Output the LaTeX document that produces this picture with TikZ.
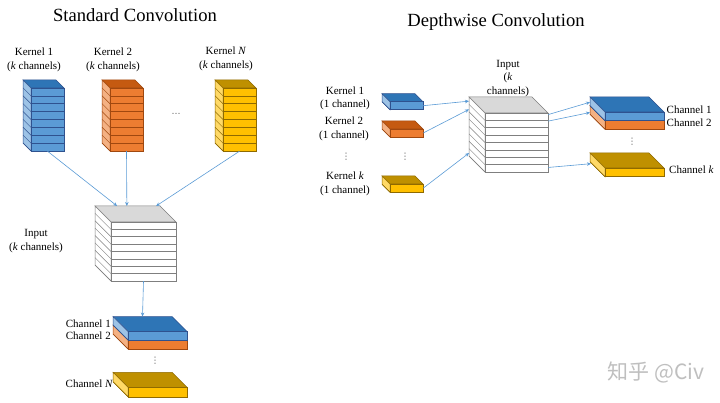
\documentclass[tikz,border=0pt]{standalone}
\usepackage{fontspec}
\setmainfont{Liberation Serif}
\newfontfamily\cjk{Noto Sans CJK SC}
\newfontfamily\symf{DejaVu Sans}
\usetikzlibrary{arrows.meta,calc}

\definecolor{blueTop}{HTML}{2E75B6}
\definecolor{blueFront}{HTML}{5B9BD5}
\definecolor{blueSide}{HTML}{9DC3E6}
\definecolor{blueEdge}{HTML}{2F528F}
\definecolor{orangeTop}{HTML}{C55A11}
\definecolor{orangeFront}{HTML}{ED7D31}
\definecolor{orangeSide}{HTML}{F4B183}
\definecolor{orangeEdge}{HTML}{A0480F}
\definecolor{yellowTop}{HTML}{BF9000}
\definecolor{yellowFront}{HTML}{FFC000}
\definecolor{yellowSide}{HTML}{FFD966}
\definecolor{yellowEdge}{HTML}{8F6A00}
\definecolor{greyTop}{HTML}{D9D9D9}
\definecolor{greyFront}{HTML}{FFFFFF}
\definecolor{greySide}{HTML}{FFFFFF}
\definecolor{greyEdge}{HTML}{7F7F7F}
\definecolor{link}{HTML}{5B9BD5}

% name, x, y (front top left), width, height, depth, layers, colour
\newcommand{\cuboid}[8]{%
  \begin{scope}[draw=#8Edge, line width=0.5pt]
    \filldraw[fill=#8Top] (#2,#3) -- ++(#4,0) -- ++(-#6,-#6) -- ++(-#4,0) -- cycle;
    \filldraw[fill=#8Side] (#2,#3) -- ++(0,#5) -- ++(-#6,-#6) -- ++(0,-#5) -- cycle;
    \filldraw[fill=#8Front] (#2,#3) rectangle ++(#4,#5);
    \foreach \i in {1,...,#7} {
      \pgfmathsetmacro\yy{#3+\i*#5/#7}
      \draw (#2,\yy) -- ++(#4,0);
      \draw (#2,\yy) -- ++(-#6,-#6);
    }
  \end{scope}
  \node[inner sep=0pt, minimum width=#4pt, minimum height=#5pt] (#1) at ({#2+#4/2},{#3+#5/2}) {};
  \coordinate (#1-tl) at ({#2-#6},{#3-#6});
  \coordinate (#1-tr) at ({#2+#4-#6},{#3-#6});
  \coordinate (#1-bl) at ({#2-#6},{#3+#5-#6});
}

\begin{document}
\begin{tikzpicture}[x=1pt,y=-1pt,
  lbl/.style={inner sep=0pt, align=center, font=\fontsize{11}{13.5}\selectfont},
  head/.style={inner sep=0pt, font=\fontsize{18.6}{20}\selectfont},
  dots/.style={inner sep=0pt, text=black!60, font=\symf\fontsize{9}{9}\selectfont},
  conn/.style={draw=link, line width=0.6pt, -{Stealth[length=4pt,width=3.5pt]}}]
\useasboundingbox (0,0) rectangle (720,403);

% standard convolution
\node[head] (stdTitle) at (135,15) {Standard Convolution};
\node[lbl] (k1Lbl) at (34,60) {Kernel 1\\(\textit{k} channels)};
\node[lbl] (k2Lbl) at (113,60) {Kernel 2\\(\textit{k} channels)};
\node[lbl] (kNLbl) at (226,59) {Kernel \textit{N}\\(\textit{k} channels)};
\node[dots] (kDots) at (176,114) {…};
\node[lbl] (inSLbl) at (36,241) {Input\\(\textit{k} channels)};

\cuboid{k1}{31}{88}{33}{63}{8}{8}{blue}
\cuboid{k2}{110}{88}{33}{63}{8}{8}{orange}
\cuboid{kN}{223}{88}{33}{63}{8}{8}{yellow}
\cuboid{inS}{111}{222}{65}{59}{16}{8}{grey}

\node[lbl, anchor=east] (cS1Lbl) at (111,323.5) {Channel 1};
\node[lbl, anchor=east] (cS2Lbl) at (111,336) {Channel 2};
\node[lbl, anchor=west] (cSNLbl) at (65.5,383.5) {Channel \textit{N}};
\node[dots] (cSDots) at (155,361) {⋮};

\cuboid{outS2}{128}{340}{59}{9}{15}{1}{orange}
\cuboid{outS1}{128}{331.5}{59}{8.5}{15}{1}{blue}
\cuboid{outSN}{128}{387.3}{59}{9.5}{15}{1}{yellow}

\draw[conn] (k1.south) -- ($(inS-tl)!0.34!(inS-tr)$);
\draw[conn] (k2.south) -- ($(inS-tl)!0.49!(inS-tr)$);
\draw[conn] (kN.south) -- ($(inS-tl)!0.94!(inS-tr)$);
\draw[conn] (inS.south) -- ($(outS1-tl)!0.5!(outS1-tr)$);

% depthwise convolution
\node[head] (dwTitle) at (496,22) {Depthwise Convolution};
\node[lbl] (d1Lbl) at (345,98.3) {Kernel 1\\(1 channel)};
\node[lbl] (d2Lbl) at (344,128.7) {Kernel 2\\(1 channel)};
\node[lbl] (dkLbl) at (345,183.7) {Kernel \textit{k}\\(1 channel)};
\node[dots] (dLblDots) at (346,157) {⋮};
\node[dots] (dDots) at (405,157) {⋮};
\node[lbl] (inDLbl) at (508,78.3) {Input\\(\textit{k}\\channels)};

\cuboid{d1}{390}{101.7}{33}{8}{8}{1}{blue}
\cuboid{d2}{390}{129}{33}{8}{8}{1}{orange}
\cuboid{dk}{390}{184}{33}{8.3}{8}{1}{yellow}
\cuboid{inD}{485}{113}{63}{59}{16}{8}{grey}

\cuboid{outD2}{605}{120.7}{59}{8.5}{15}{1}{orange}
\cuboid{outD1}{605}{112}{59}{8.7}{15}{1}{blue}
\cuboid{outDk}{605}{168}{59}{8.7}{15}{1}{yellow}
\node[dots] (outDDots) at (632,142) {⋮};

\node[lbl, anchor=west] (cD1Lbl) at (666.5,109.3) {Channel 1};
\node[lbl, anchor=west] (cD2Lbl) at (666.5,122.7) {Channel 2};
\node[lbl, anchor=west] (cDkLbl) at (669,169.3) {Channel \textit{k}};

\draw[conn] (d1.east) -- ($(inD-tl)!0.07!(inD-bl)$);
\draw[conn] (d2.east) -- ($(inD-tl)!0.21!(inD-bl)$);
\draw[conn] (dk.east) -- ($(inD-tl)!0.95!(inD-bl)$);
\draw[conn] ($(inD.north east)!0.03!(inD.south east)$) -- ($(outD1-tl)!0.6!(outD1-bl)$);
\draw[conn] ($(inD.north east)!0.14!(inD.south east)$) -- ($(outD2-tl)!0.8!(outD2-bl)$);
\draw[conn] ($(inD.north east)!0.92!(inD.south east)$) -- ($(outDk-bl)+(1,2)$);

\node[inner sep=0pt, text=black!25, font=\cjk\fontsize{21}{22}\selectfont] (mark) at (656,372) {知乎 @Civ};
\end{tikzpicture}
\end{document}
